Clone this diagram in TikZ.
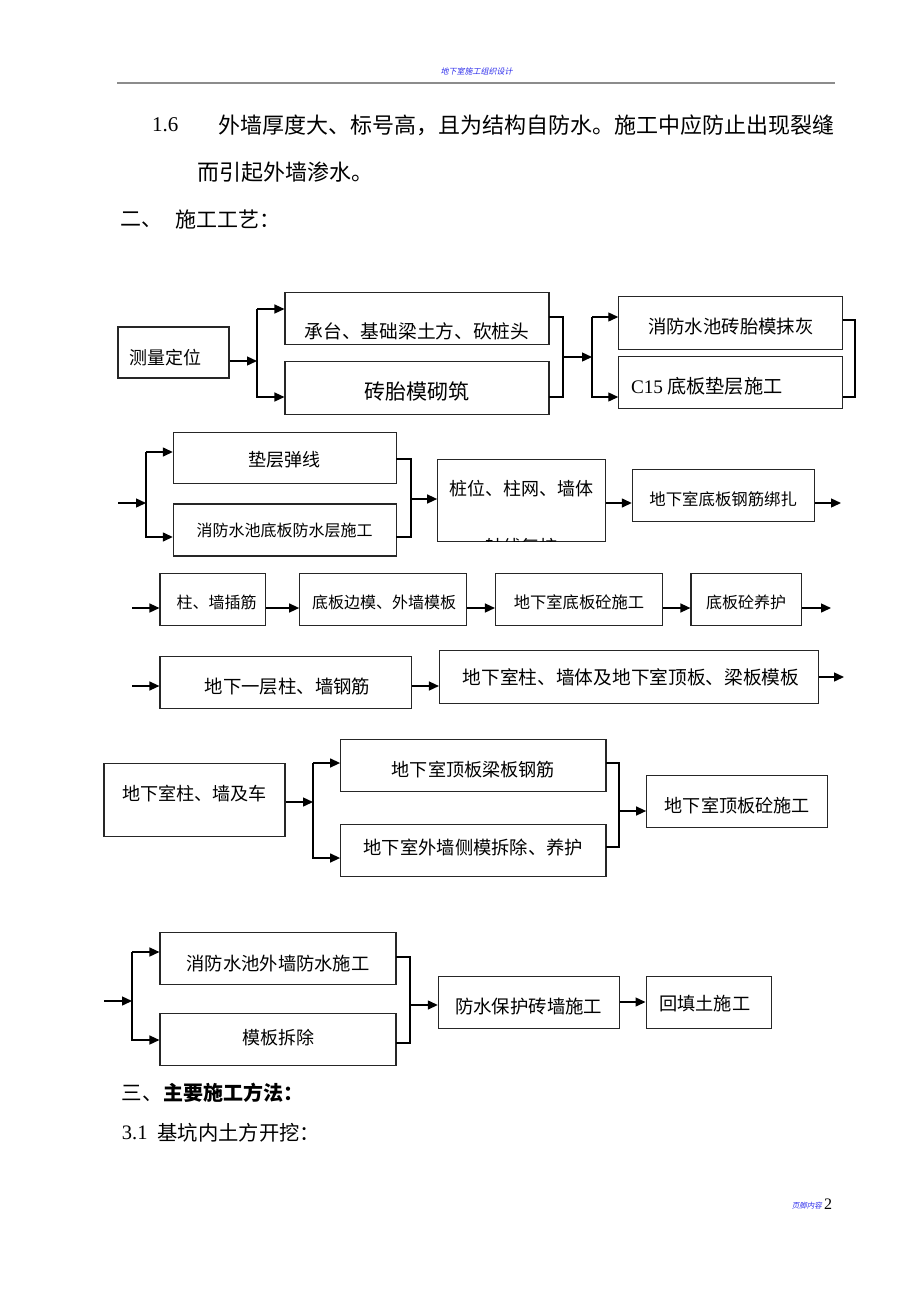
\documentclass[tikz,border=0pt]{standalone}
\usepackage{fontspec}
\setmainfont{Liberation Serif}
\newfontfamily\cjk{Noto Sans CJK SC}
\newfontfamily\cjkit{Noto Sans CJK SC}[FakeSlant=0.2]
\usetikzlibrary{arrows.meta}
\definecolor{hdrblue}{RGB}{45,45,235}
\newcommand\fs[1]{\fontsize{#1}{#1}\selectfont}
\tikzset{
  blk/.style={draw=black!85, line width=1.1pt, inner sep=0pt},
  txt/.style={inner sep=0pt},
  ln/.style={line width=1.4pt, line cap=rect},
  arr/.style={line width=1.4pt, -{Triangle[length=10pt,width=9pt]}},
}

\begin{document}
\begin{tikzpicture}[x=1pt,y=-1pt]
%%%%% START %%%%%
\useasboundingbox (0,0) rectangle (920,1302);

% page header
\node[txt, font=\cjkit\fs{8}, text=hdrblue] (hd) at (476.5,71) {地下室施工组织设计};
\draw[line width=1.3pt, color=black!45] (117,83) -- (835,83);

% running text
\node[txt, anchor=west, font=\fs{21}] (n16) at (152,125) {1.6};
\node[txt, anchor=west, font=\cjk\fs{22}] (p1) at (218,125) {外墙厚度大、标号高，且为结构自防水。施工中应防止出现裂缝};
\node[txt, anchor=west, font=\cjk\fs{22}] (p2) at (197,172) {而引起外墙渗水。};
\node[txt, anchor=west, font=\cjk\fs{21}] (h2) at (120,220) {二、};
\node[txt, anchor=west, font=\cjk\fs{21}] (h2t) at (175,220) {施工工艺：};

% row 1
\node[blk, minimum width=111, minimum height=51, label={[txt, font=\cjk\fs{18}, xshift=-8, yshift=-5.5]center:测量定位}] (cl) at (173.5,352.5) {};
\node[blk, minimum width=264, minimum height=52, label={[txt, font=\cjk\fs{18.7}, yshift=-13]center:承台、基础梁土方、砍桩头}] (ct) at (417,318.3) {};
\node[blk, minimum width=264, minimum height=53, label={[txt, font=\cjk\fs{21}, yshift=-3.4]center:砖胎模砌筑}] (zt) at (417,388.3) {};
\node[blk, minimum width=224, minimum height=52.6, label={[txt, font=\cjk\fs{18.4}, yshift=-3.7]center:消防水池砖胎模抹灰}] (xh) at (730.8,323) {};
\node[blk, minimum width=224, minimum height=51.6, label={[txt, font=\cjk\fs{19.2}, xshift=-24, yshift=-4.2]center:{\rmfamily C15} 底板垫层施工}] (cf) at (730.8,382.5) {};

\coordinate (s1) at (257,361);
\coordinate (s1t) at (257,309);
\coordinate (s1b) at (257,397);
\draw[arr] (cl.east |- s1) -- (s1);
\draw[arr] (s1t) -- (ct.west |- s1t);
\draw[arr] (s1t) -- (s1b) -- (zt.west |- s1b);

\coordinate (j1t) at (563,317);
\coordinate (j1b) at (563,397);
\coordinate (j1) at (563,357);
\coordinate (s2) at (592,357);
\coordinate (s2t) at (592,317);
\coordinate (s2b) at (592,397);
\draw[ln] (ct.east |- j1t) -- (j1t) -- (j1b) -- (zt.east |- j1b);
\draw[arr] (j1) -- (s2);
\draw[arr] (s2t) -- (xh.west |- s2t);
\draw[arr] (s2t) -- (s2b) -- (cf.west |- s2b);

\coordinate (k1t) at (855,320);
\coordinate (k1b) at (855,397);
\draw[ln] (xh.east |- k1t) -- (k1t) -- (k1b) -- (cf.east |- k1b);

% row 2
\node[blk, minimum width=222.7, minimum height=51, label={[txt, font=\cjk\fs{18}, yshift=-2.2]center:垫层弹线}] (dx) at (284.7,457.8) {};
\node[blk, minimum width=222.7, minimum height=52, label={[txt, font=\cjk\fs{16}]center:消防水池底板防水层施工}] (fs) at (284.7,530) {};
\node[blk, minimum width=167.6, minimum height=81.7] (zw) at (521.5,500.2) {};
\begin{scope}
  \clip (zw.south west) rectangle (zw.north east);
  \node[txt, font=\cjk\fs{18}] (zw-a) at (521.7,488.8) {桩位、柱网、墙体};
  \node[txt, font=\cjk\fs{18}] (zw-b) at (521,547) {轴线复核};
\end{scope}
\node[blk, minimum width=181.7, minimum height=51.7, label={[txt, font=\cjk\fs{16.4}, yshift=-3.8]center:地下室底板钢筋绑扎}] (gj) at (723.2,495.2) {};

\coordinate (r2in) at (118,503);
\coordinate (s3) at (146,503);
\coordinate (s3t) at (146,452);
\coordinate (s3b) at (146,537);
\draw[arr] (r2in) -- (s3);
\draw[arr] (s3t) -- (dx.west |- s3t);
\draw[arr] (s3t) -- (s3b) -- (fs.west |- s3b);

\coordinate (j2t) at (411,459);
\coordinate (j2b) at (411,537);
\coordinate (j2) at (411,499);
\draw[ln] (dx.east |- j2t) -- (j2t) -- (j2b) -- (fs.east |- j2b);
\draw[arr] (j2) -- (zw.west |- j2);
\draw[arr] (zw.east |- r2in) -- (gj.west |- r2in);
\coordinate (r2out) at (841,503);
\draw[arr] (gj.east |- r2out) -- (r2out);

% row 3
\node[blk, minimum width=105.6, minimum height=51.7, label={[txt, font=\cjk\fs{16}, xshift=3.9, yshift=-3.5]center:柱、墙插筋}] (zc) at (212.8,599.2) {};
\node[blk, minimum width=166.6, minimum height=51.7, label={[txt, font=\cjk\fs{16}, xshift=1.2, yshift=-3.5]center:底板边模、外墙模板}] (bm) at (383,599.2) {};
\node[blk, minimum width=167, minimum height=51.7, label={[txt, font=\cjk\fs{16.3}, yshift=-3.5]center:地下室底板砼施工}] (dt) at (579,599.2) {};
\node[blk, minimum width=110.5, minimum height=51.7, label={[txt, font=\cjk\fs{16}, yshift=-3.5]center:底板砼养护}] (yh) at (746.2,599.2) {};

\coordinate (r3in) at (132,608);
\coordinate (r3out) at (831,608);
\draw[arr] (r3in) -- (zc.west |- r3in);
\draw[arr] (zc.east |- r3in) -- (bm.west |- r3in);
\draw[arr] (bm.east |- r3in) -- (dt.west |- r3in);
\draw[arr] (dt.east |- r3in) -- (yh.west |- r3in);
\draw[arr] (yh.east |- r3out) -- (r3out);

% row 4
\node[blk, minimum width=251.7, minimum height=51.6, label={[txt, font=\cjk\fs{18.4}, xshift=1.7, yshift=-4.2]center:地下一层柱、墙钢筋}] (gz) at (285.8,682.5) {};
\node[blk, minimum width=379, minimum height=52.6, label={[txt, font=\cjk\fs{18.7}, xshift=2]center:地下室柱、墙体及地下室顶板、梁板模板}] (mb) at (629,677) {};

\coordinate (r4in) at (132,686);
\coordinate (r4out) at (844,677);
\draw[arr] (r4in) -- (gz.west |- r4in);
\draw[arr] (gz.east |- r4in) -- (mb.west |- r4in);
\draw[arr] (mb.east |- r4out) -- (r4out);

% row 5
\node[blk, minimum width=181, minimum height=72.7, label={[txt, font=\cjk\fs{18.1}, yshift=6.4]center:地下室柱、墙及车}] (cq) at (194.5,799.7) {};
\node[blk, minimum width=265.3, minimum height=52.4, label={[txt, font=\cjk\fs{18.1}, yshift=-4.5]center:地下室顶板梁板钢筋}] (db) at (473.3,765.5) {};
\node[blk, minimum width=265.3, minimum height=51.7, label={[txt, font=\cjk\fs{18.3}, yshift=2.5]center:地下室外墙侧模拆除、养护}] (wq) at (473.3,850.2) {};
\node[blk, minimum width=181, minimum height=52, label={[txt, font=\cjk\fs{18.1}, yshift=-4.3]center:地下室顶板砼施工}] (dd) at (737.2,801.7) {};

\coordinate (s5) at (313,802);
\coordinate (s5t) at (313,763);
\coordinate (s5b) at (313,858);
\draw[arr] (cq.east |- s5) -- (s5);
\draw[arr] (s5t) -- (db.west |- s5t);
\draw[arr] (s5t) -- (s5b) -- (wq.west |- s5b);

\coordinate (j5t) at (619,763);
\coordinate (j5b) at (619,847);
\coordinate (j5) at (619,811);
\draw[ln] (db.east |- j5t) -- (j5t) -- (j5b) -- (wq.east |- j5b);
\draw[arr] (j5) -- (dd.west |- j5);

% row 6
\node[blk, minimum width=236, minimum height=52, label={[txt, font=\cjk\fs{18.3}, yshift=-5]center:消防水池外墙防水施工}] (xw) at (278,958.3) {};
\node[blk, minimum width=236, minimum height=51.7, label={[txt, font=\cjk\fs{18}, yshift=2]center:模板拆除}] (mc) at (278,1039.2) {};
\node[blk, minimum width=180.7, minimum height=51.6, label={[txt, font=\cjk\fs{18.4}, yshift=-4.2]center:防水保护砖墙施工}] (fb) at (528.7,1002.5) {};
\node[blk, minimum width=125.7, minimum height=51.6, label={[txt, font=\cjk\fs{18.2}, xshift=-4.2, yshift=-0.8]center:回填土施工}] (ht) at (708.9,1002.5) {};

\coordinate (r6in) at (104,1001);
\coordinate (s6) at (132,1001);
\coordinate (s6t) at (132,952);
\coordinate (s6b) at (132,1040);
\draw[arr] (r6in) -- (s6);
\draw[arr] (s6t) -- (xw.west |- s6t);
\draw[arr] (s6t) -- (s6b) -- (mc.west |- s6b);

\coordinate (j6t) at (410,957);
\coordinate (j6b) at (410,1043);
\coordinate (j6) at (410,1005);
\draw[ln] (xw.east |- j6t) -- (j6t) -- (j6b) -- (mc.east |- j6b);
\draw[arr] (j6) -- (fb.west |- j6);
\coordinate (r6m) at (619,1002);
\draw[arr] (fb.east |- r6m) -- (ht.west |- r6m);

% closing text
\node[txt, anchor=west, font=\cjk\fs{20.5}] (h3) at (121.7,1093) {三、};
\node[txt, anchor=west, font=\cjk\bfseries\fs{20}] (h3t) at (163.3,1093) {主要施工方法：};
\node[txt, anchor=west, font=\fs{20.5}] (n31) at (121.7,1133) {3.1};
\node[txt, anchor=west, font=\cjk\fs{20.3}] (h31t) at (157.3,1133) {基坑内土方开挖：};

% page footer
\node[txt, anchor=west, font=\cjkit\fs{7.5}, text=hdrblue] (ft) at (791.7,1206) {页脚内容};
\node[txt, anchor=west, font=\fs{16}] (pg) at (824,1204) {2};

%%%%% END %%%%%
\end{tikzpicture}
\end{document}
